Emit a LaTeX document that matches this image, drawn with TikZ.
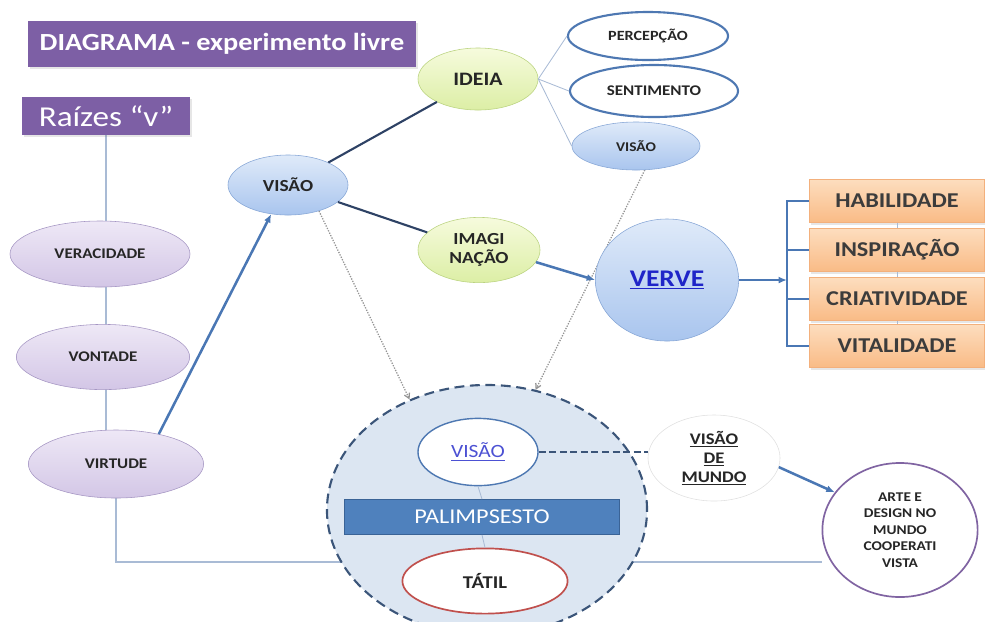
\documentclass[tikz,border=0pt]{standalone}
\usepackage{fontspec}
\setmainfont{Carlito}[FakeStretch=1.15]
\usetikzlibrary{shapes.geometric,arrows.meta,backgrounds,shadows}

\definecolor{titlepurple}{HTML}{7D5FA5}
\definecolor{lavtop}{HTML}{EEE8F6}
\definecolor{lavbot}{HTML}{D3C6E6}
\definecolor{lavline}{HTML}{A596C3}
\definecolor{bubtop}{HTML}{DFEAF9}
\definecolor{bubbot}{HTML}{A9C5EE}
\definecolor{bubline}{HTML}{86A6D6}
\definecolor{greentop}{HTML}{F6FBDD}
\definecolor{greenbot}{HTML}{DCEEA5}
\definecolor{greenline}{HTML}{BAD37F}
\definecolor{orgtop}{HTML}{FDDDBE}
\definecolor{orgbot}{HTML}{F9BB86}
\definecolor{orgline}{HTML}{F3B07C}
\definecolor{navyline}{HTML}{2E4265}
\definecolor{arrowblue}{HTML}{4A77B4}
\definecolor{treeblue}{HTML}{A9BBD5}
\definecolor{palimblue}{HTML}{4F81BD}
\definecolor{palimline}{HTML}{3A6396}
\definecolor{poolfill}{HTML}{DCE6F2}
\definecolor{poolline}{HTML}{3B5579}
\definecolor{ringblue}{HTML}{4E78B2}
\definecolor{ringred}{HTML}{C0504D}
\definecolor{ringpurple}{HTML}{8064A2}
\definecolor{linkblue}{HTML}{1F25C8}
\definecolor{labelgray}{HTML}{262626}

\begin{document}
\begin{tikzpicture}[x=0.025cm, y=-0.025cm,
    titlebox/.style={rectangle, fill=titlepurple, text=white, inner sep=0pt,
        drop shadow={opacity=0.2, shadow xshift=1.5pt, shadow yshift=-1.5pt}},
    rootbubble/.style={ellipse, draw=lavline, top color=lavtop, bottom color=lavbot,
        inner sep=0pt, text=labelgray, font=\bfseries\fontsize{10.5}{12}\selectfont},
    bluebubble/.style={ellipse, draw=bubline, top color=bubtop, bottom color=bubbot,
        inner sep=0pt, text=labelgray},
    greenbubble/.style={ellipse, draw=greenline, top color=greentop, bottom color=greenbot,
        inner sep=0pt, text=labelgray, align=center},
    ringbubble/.style={ellipse, draw=ringblue, line width=1.5pt, fill=white,
        inner sep=0pt, text=labelgray},
    qualbox/.style={rectangle, draw=orgline, top color=orgtop, bottom color=orgbot,
        minimum width=4.38cm, minimum height=1.07cm, inner sep=0pt, text=labelgray!90,
        font=\bfseries\fontsize{15}{17}\selectfont,
        drop shadow={opacity=0.2, shadow xshift=1.5pt, shadow yshift=-1.5pt}},
    pool/.style={ellipse, fill=poolfill, draw=poolline, line width=1.5pt,
        dash pattern=on 7pt off 4pt},
    stem/.style={draw=navyline, line width=1.5pt},
    twig/.style={draw=treeblue, line width=0.6pt},
    treeline/.style={draw=treeblue, line width=0.9pt},
    flow/.style={draw=arrowblue, line width=1.8pt, -{Latex[length=6pt, width=5pt]}},
    bracket/.style={draw=arrowblue, line width=1.5pt},
    hintarrow/.style={draw=gray!85, densely dotted, line width=0.9pt,
        -{Straight Barb[length=3.5pt, width=4pt]}},
    linkdash/.style={draw=poolline, line width=1.5pt, dash pattern=on 5pt off 2.5pt}]

    \useasboundingbox (0,0) rectangle (985,621);
    \clip (0,0) rectangle (985,621);

    % ===== raizes "v" =====
    \node[titlebox, minimum width=9.7cm, minimum height=1.15cm,
        font=\bfseries\fontsize{17.5}{19}\selectfont] (title) at (222,44) {DIAGRAMA - experimento livre};
    \node[titlebox, minimum width=4.2cm, minimum height=0.95cm,
        font=\fontsize{20.5}{22}\selectfont] (raizes) at (106,116) {Raízes “v”};

    \node[rootbubble, minimum width=4.5cm, minimum height=1.65cm] (vera) at (100,254) {VERACIDADE};
    \node[rootbubble, minimum width=4.33cm, minimum height=1.63cm] (vont) at (103,357) {VONTADE};
    \node[rootbubble, minimum width=4.38cm, minimum height=1.7cm] (virt) at (116,464) {VIRTUDE};

    % ===== visao, ideia, imaginacao =====
    \node[bluebubble, minimum width=3cm, minimum height=1.5cm,
        font=\bfseries\fontsize{12}{14}\selectfont] (visao) at (288,185) {VISÃO};
    \node[greenbubble, minimum width=3cm, minimum height=1.55cm,
        font=\bfseries\fontsize{13.5}{15}\selectfont] (ideia) at (478,79) {IDEIA};
    \node[greenbubble, minimum width=3.05cm, minimum height=1.63cm,
        font=\bfseries\fontsize{12}{13.5}\selectfont] (imagi) at (479,250) {IMAGI\\NAÇÃO};

    \node[ringbubble, minimum width=4cm, minimum height=1.2cm,
        font=\bfseries\fontsize{10}{11}\selectfont] (percep) at (648,36) {PERCEPÇÃO};
    \node[ringbubble, minimum width=4.2cm, minimum height=1.3cm,
        font=\bfseries\fontsize{10.5}{12}\selectfont] (senti) at (654,91) {SENTIMENTO};
    \node[bluebubble, minimum width=3.2cm, minimum height=1.2cm,
        font=\bfseries\fontsize{9.5}{11}\selectfont] (visidea) at (636,146) {VISÃO};

    \node[bluebubble, minimum width=3.58cm, minimum height=3.05cm, text=linkblue,
        font=\bfseries\fontsize{17}{19}\selectfont] (verve) at (667,280) {\underline{VERVE}};

    % ===== qualidades =====
    \node[qualbox] (habil) at (897,201) {HABILIDADE};
    \node[qualbox] (inspi) at (897,250) {INSPIRAÇÃO};
    \node[qualbox] (criat) at (897,299) {CRIATIVIDADE};
    \node[qualbox] (vital) at (897,346) {VITALIDADE};

    % ===== palimpsesto =====
    \node[pool, minimum width=8cm, minimum height=6.25cm] (pool) at (487,510) {};
    \node[ellipse, draw=ringblue, line width=1pt, fill=white, inner sep=0pt,
        minimum width=3cm, minimum height=1.68cm, text=linkblue!80,
        font=\fontsize{13.3}{15}\selectfont] (vistatil) at (478,452) {\underline{VISÃO}};
    \node[rectangle, fill=palimblue, draw=palimline, inner sep=0pt,
        minimum width=6.88cm, minimum height=0.88cm, text=white,
        font=\fontsize{15}{17}\selectfont] (palim) at (482,517) {PALIMPSESTO};
    \node[ellipse, draw=ringred, line width=1.2pt, fill=white, inner sep=0pt,
        minimum width=4.13cm, minimum height=1.63cm, text=labelgray,
        font=\bfseries\fontsize{12.8}{14}\selectfont] (tatil) at (485,581) {TÁTIL};

    \node[ellipse, draw=black!12, fill=white, inner sep=0pt, align=center,
        minimum width=3.3cm, minimum height=2.15cm, text=labelgray,
        font=\bfseries\fontsize{11.5}{13.5}\selectfont] (mundo) at (714,458)
        {\underline{VISÃO}\\\underline{DE}\\\underline{MUNDO}};
    \node[ellipse, draw=ringpurple, line width=1.2pt, fill=white, inner sep=0pt, align=center,
        minimum width=3.88cm, minimum height=3.35cm, text=labelgray,
        font=\bfseries\fontsize{9.5}{11.8}\selectfont] (arte) at (900,530)
        {ARTE E\\DESIGN NO\\MUNDO\\COOPERATI\\VISTA};

    % ===== connectors behind the nodes =====
    \begin{scope}[on background layer]
        \draw[treeline] (raizes.south) -- (raizes.south |- virt.center);
        \coordinate (base) at (116,562);
        \draw[treeline] (virt.south) -- (base) -- (base -| arte.west);
        \draw[hintarrow] (visao.320) -- (pool.125);
        \draw[hintarrow] (visidea.290) -- (pool.68);
    \end{scope}

    % ===== connectors =====
    \draw[stem] (visao) -- (ideia);
    \draw[stem] (visao) -- (imagi);
    \draw[twig] (ideia.east) -- (percep.west);
    \draw[twig] (ideia.east) -- (senti.west);
    \draw[twig] (ideia.east) -- (visidea.west);

    \draw[flow] (virt.35) -- (visao.240);
    \draw[flow] (imagi.-12) -- (verve.west);

    \coordinate (brk) at (787,280);
    \draw[flow] (verve.east) -- (brk);
    \draw[bracket] (habil.west) -- (habil.west -| brk) -- (vital.west -| brk) -- (vital.west);
    \draw[bracket] (inspi.west) -- (inspi.west -| brk);
    \draw[bracket] (criat.west) -- (criat.west -| brk);
    \draw[twig] (habil.south) -- (inspi.north);
    \draw[twig] (inspi.south) -- (criat.north);
    \draw[twig] (criat.south) -- (vital.north);

    \draw[twig] (vistatil.south) -- (palim.north);
    \draw[twig] (palim.south) -- (tatil.north);
    \draw[linkdash] (vistatil.east) -- (vistatil.east -| mundo.west);
    \draw[flow] (mundo.-8) -- (arte.150);
\end{tikzpicture}
\end{document}
